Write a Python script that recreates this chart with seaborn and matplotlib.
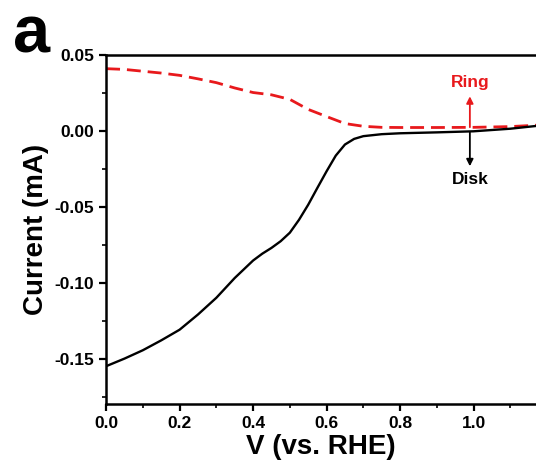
import numpy as np
import pandas as pd
import seaborn as sns
import matplotlib
matplotlib.use("Agg")
import matplotlib.pyplot as plt
from matplotlib.ticker import MultipleLocator

# Dados
disk_v = [0.0, 0.05, 0.1, 0.15, 0.2, 0.25, 0.3, 0.35, 0.4, 0.425, 0.45, 0.475,
          0.5, 0.525, 0.55, 0.575, 0.6, 0.625, 0.65, 0.675, 0.7, 0.75, 0.8,
          0.9, 1.0, 1.1, 1.17]
disk_i = [-0.155, -0.150, -0.1445, -0.138, -0.131, -0.121, -0.110, -0.097,
          -0.0855, -0.081, -0.0772, -0.0728, -0.0672, -0.0587, -0.0488,
          -0.0377, -0.0268, -0.0165, -0.0092, -0.0055, -0.0037, -0.0024,
          -0.0018, -0.0012, -0.0005, 0.0012, 0.003]

ring_v = [0.0, 0.05, 0.1, 0.15, 0.2, 0.25, 0.3, 0.35, 0.4, 0.45, 0.5, 0.55,
          0.6, 0.65, 0.7, 0.75, 0.8, 0.9, 1.0, 1.1, 1.17]
ring_i = [0.0407, 0.0402, 0.039, 0.0378, 0.0363, 0.034, 0.0315, 0.028, 0.025,
          0.0235, 0.0205, 0.0139, 0.0092, 0.0046, 0.0028, 0.0021, 0.002, 0.002,
          0.0021, 0.0026, 0.0035]

df_disk = pd.DataFrame({'v': disk_v, 'i': disk_i})
df_ring = pd.DataFrame({'v': ring_v, 'i': ring_i})

sns.set_style("ticks", {'axes.edgecolor': 'black', 'text.color': 'black',
                        'xtick.color': 'black', 'ytick.color': 'black',
                        'axes.labelcolor': 'black'})
plt.rcParams['font.family'] = ['Liberation Sans', 'DejaVu Sans']
plt.rcParams['font.weight'] = 'bold'

fig = plt.figure(figsize=(5.36, 4.70), dpi=100)
ax = fig.add_axes([0.198, 0.140, 0.802, 0.744])

sns.lineplot(data=df_ring, x='v', y='i', ax=ax, color='#e8191c', lw=2,
             dashes=False, linestyle=(0, (5, 2.5)))
sns.lineplot(data=df_disk, x='v', y='i', ax=ax, color='black', lw=1.7)

ax.set_xlim(0, 1.17)
ax.set_ylim(-0.18, 0.05)
ax.xaxis.set_minor_locator(MultipleLocator(0.1))
ax.yaxis.set_minor_locator(MultipleLocator(0.025))
ax.set_xticks([0.0, 0.2, 0.4, 0.6, 0.8, 1.0])
ax.set_xticklabels(['0.0', '0.2', '0.4', '0.6', '0.8', '1.0'])
ax.set_yticks([0.05, 0.0, -0.05, -0.10, -0.15])
ax.set_yticklabels(['0.05', '0.00', '-0.05', '-0.10', '-0.15'])

ax.spines['right'].set_visible(False)
for s in ['left', 'bottom', 'top']:
    ax.spines[s].set_linewidth(1.8)
ax.tick_params(which='major', direction='out', length=5, width=1.6,
               labelsize=12.5, top=False, right=False, colors='black')
ax.tick_params(which='minor', direction='out', length=3, width=1.2,
               top=False, right=False, colors='black')
for lbl in ax.get_xticklabels() + ax.get_yticklabels():
    lbl.set_fontweight('bold')

ax.set_xlabel("V (vs. RHE)", fontsize=20, fontweight='bold', labelpad=2,
              color='black')
ax.set_ylabel("Current (mA)", fontsize=20, fontweight='bold', labelpad=4,
              color='black')

# Setas Ring / Disk
ax.annotate('', xy=(0.99, 0.0225), xytext=(0.99, 0.0022),
            arrowprops=dict(arrowstyle='-|>', color='#e8191c', lw=1.3,
                            mutation_scale=10, shrinkA=0, shrinkB=0))
ax.text(0.99, 0.0265, 'Ring', color='#e8191c', fontsize=12.5,
        fontweight='bold', ha='center', va='bottom')
ax.annotate('', xy=(0.99, -0.0235), xytext=(0.99, -0.0012),
            arrowprops=dict(arrowstyle='-|>', color='black', lw=1.3,
                            mutation_scale=10, shrinkA=0, shrinkB=0))
ax.text(0.99, -0.0275, 'Disk', color='black', fontsize=12.5,
        fontweight='bold', ha='center', va='top')

fig.text(0.058, 0.925, 'a', fontsize=48, fontweight='bold', ha='center',
         va='center', color='black')

fig.savefig('out.png', dpi=100)
